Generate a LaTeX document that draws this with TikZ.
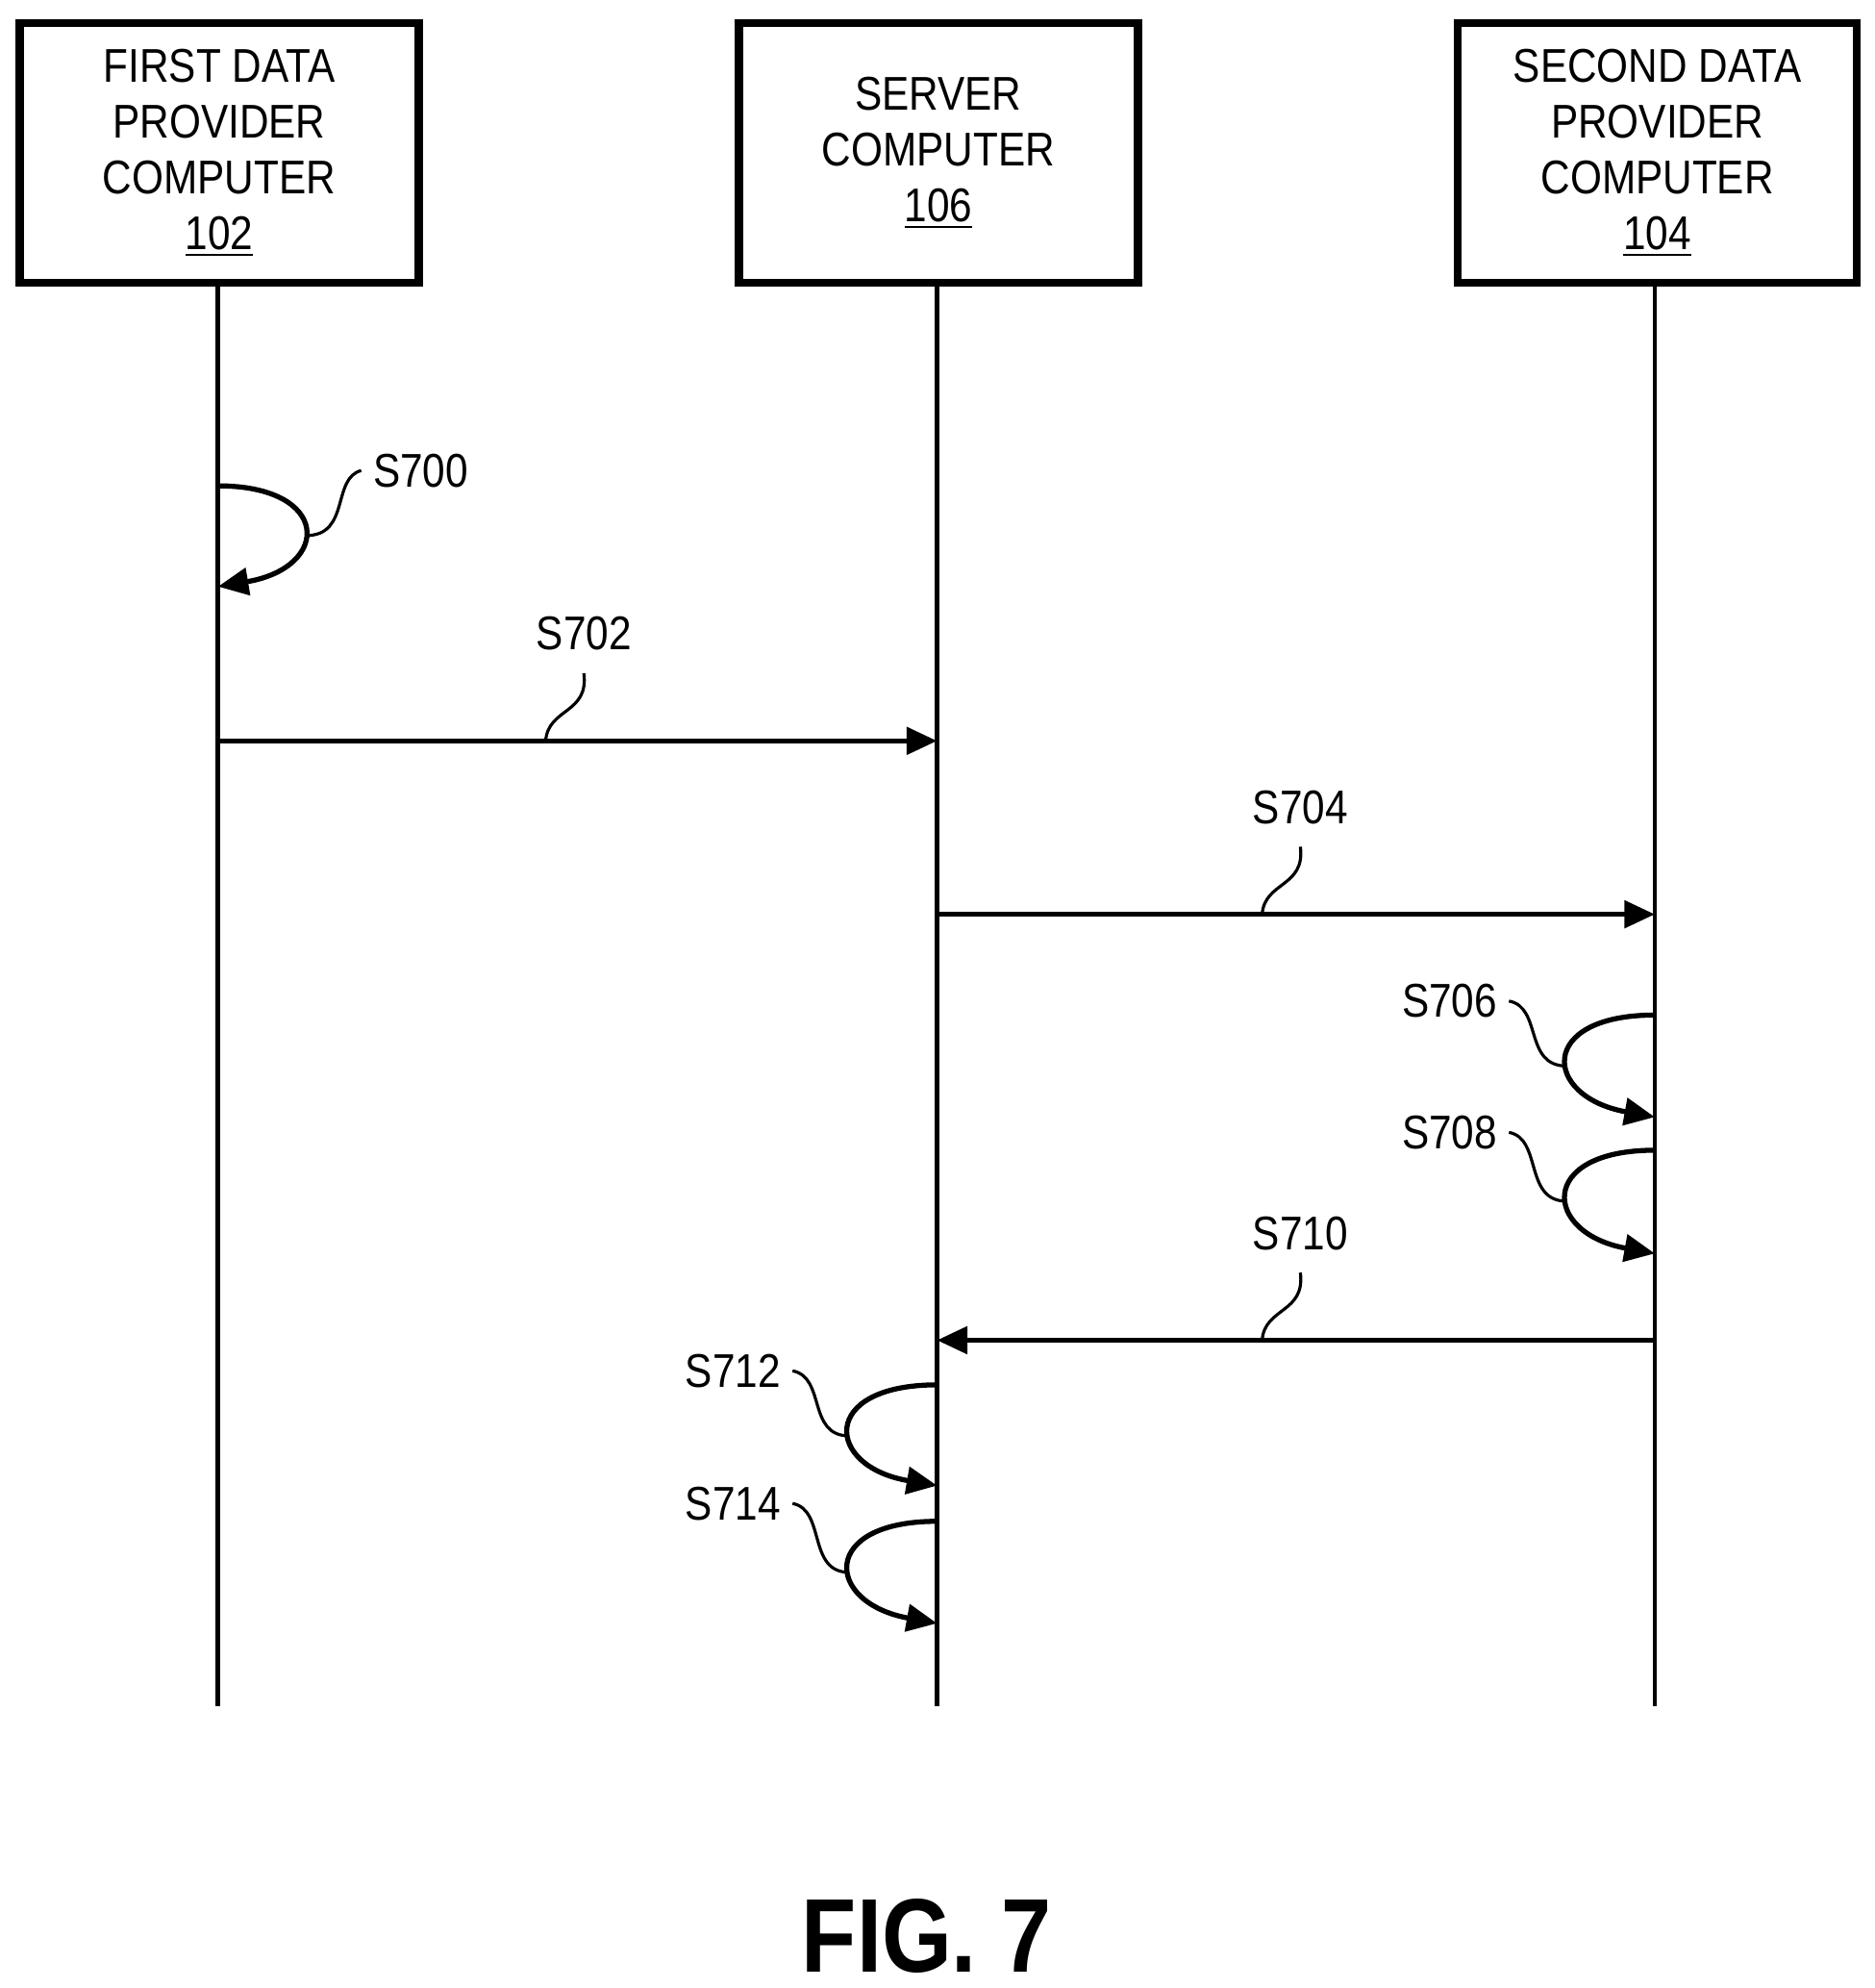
\documentclass[tikz,border=0pt]{standalone}
\usepackage{fontspec}
\setmainfont{Liberation Sans}[FakeStretch=0.86]
\usetikzlibrary{positioning}
\usetikzlibrary{arrows.meta}

\tikzset{
	party/.style={draw, line width=2.4pt, minimum width=4.15cm, minimum height=2.7cm, align=center, font=\fontsize{14}{16.5}\selectfont},
	life/.style={line width=1.3pt},
	msg/.style={line width=1.5pt, -{Triangle[length=9pt, width=8pt]}},
	steplabel/.style={font=\fontsize{14}{16}\selectfont},
	lead/.style={line width=0.9pt}
}

\begin{document}
\begin{tikzpicture}[x=0.01326cm, y=-0.01326cm]
	\useasboundingbox (0,0) rectangle (1470,1559);
	% participants
	\node[party] (first) at (172,120) {FIRST DATA\\PROVIDER\\COMPUTER\\\underline{102}};
	\node[party] (server) at (736,120) {SERVER\\COMPUTER\\\underline{106}};
	\node[party] (second) at (1300,120) {SECOND DATA\\PROVIDER\\COMPUTER\\\underline{104}};

	% lifeline ends
	\coordinate (firstEnd) at (171,1338);
	\coordinate (serverEnd) at (735,1338);
	\coordinate (secondEnd) at (1298,1338);
	\draw[life] (first.south -| firstEnd) -- (firstEnd);
	\draw[life] (server.south -| serverEnd) -- (serverEnd);
	\draw[life] (second.south -| secondEnd) -- (secondEnd);

	% S700
	\coordinate (a0) at (171,381);
	\coordinate (b0) at (171,460);
	\draw[msg] (a0) .. controls (260,381) and (260,445) .. (b0);
	\node[steplabel] (s700) at (330,369) {S700};
	\draw[lead] (s700.west) .. controls (260,375) and (275,420) .. (240,420);

	% S702
	\coordinate (a2) at (171,581);
	\coordinate (b2) at (735,581);
	\draw[msg] (a2) -- (b2);
	\node[steplabel] (s702) at (458,497) {S702};
	\draw[lead] (458,528) .. controls (462,560) and (430,555) .. (428,581);

	% S704
	\coordinate (a4) at (735,717);
	\coordinate (b4) at (1298,717);
	\draw[msg] (a4) -- (b4);
	\node[steplabel] (s704) at (1020,633) {S704};
	\draw[lead] (1020,664) .. controls (1024,696) and (992,691) .. (990,717);

	% S706, S708
	\coordinate (a6) at (1298,796);
	\coordinate (b6) at (1298,876);
	\draw[msg] (a6) .. controls (1205,796) and (1210,860) .. (b6);
	\node[steplabel] (s706) at (1137,785) {S706};
	\draw[lead] (s706.east) .. controls (1210,790) and (1195,836) .. (1229,836);
	\coordinate (a8) at (1298,902);
	\coordinate (b8) at (1298,983);
	\draw[msg] (a8) .. controls (1205,902) and (1210,967) .. (b8);
	\node[steplabel] (s708) at (1137,888) {S708};
	\draw[lead] (s708.east) .. controls (1210,893) and (1195,942) .. (1229,942);

	% S710
	\coordinate (a10) at (1298,1051);
	\coordinate (b10) at (735,1051);
	\draw[msg] (a10) -- (b10);
	\node[steplabel] (s710) at (1020,967) {S710};
	\draw[lead] (1020,998) .. controls (1024,1030) and (992,1025) .. (990,1051);

	% S712, S714
	\coordinate (a12) at (735,1086);
	\coordinate (b12) at (735,1165);
	\draw[msg] (a12) .. controls (642,1086) and (647,1150) .. (b12);
	\node[steplabel] (s712) at (575,1075) {S712};
	\draw[lead] (s712.east) .. controls (648,1080) and (633,1126) .. (666,1126);
	\coordinate (a14) at (735,1193);
	\coordinate (b14) at (735,1273);
	\draw[msg] (a14) .. controls (642,1193) and (647,1257) .. (b14);
	\node[steplabel] (s714) at (575,1179) {S714};
	\draw[lead] (s714.east) .. controls (648,1184) and (633,1233) .. (666,1233);

	\node[font=\fontsize{31}{34}\selectfont\bfseries] (fig) at (727,1518) {FIG. 7};
\end{tikzpicture}
\end{document}
